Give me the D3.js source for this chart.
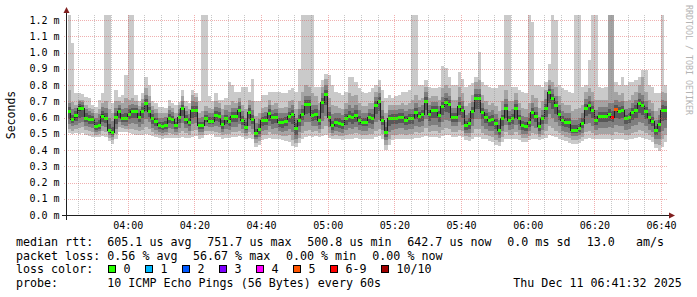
<!DOCTYPE html>
<html>
<head>
<meta charset="utf-8">
<script src="https://cdn.jsdelivr.net/npm/d3@7"></script>
<style>
  body { margin: 0; background: #fff; }
  svg { display: block; }
  text { font-family: "DejaVu Sans Mono", monospace; }
</style>
</head>
<body>
<svg id="chart" width="697" height="297"></svg>
<script>
// one data point per minute, 180 minutes
const startTime = new Date(2025, 11, 11, 3, 41, 56);
const stepMinutes = 1;

// median rtt per minute (microseconds)
const median = [
  637,585,611,658,658,595,589,589,543,553, 609,595,523,507,600,634,593,593,621,634,
  634,600,637,687,640,592,574,551,543,553, 595,588,550,600,654,588,568,646,646,548,
  548,591,578,578,615,609,554,591,578,605, 605,646,584,540,630,589,501,529,580,584,
  626,597,603,570,570,578,609,621,533,584, 621,677,677,615,621,584,693,743,603,548,
  572,566,556,594,609,597,615,584,572,572, 603,594,673,697,584,509,591,594,594,600,
  601,584,594,594,632,609,621,700,621,642, 642,615,667,693,680,603,603,667,646,548,
  564,638,718,718,632,601,580,589,564,523, 591,658,580,594,656,591,548,544,570,632,
  609,544,591,656,752,718,671,621,584,572, 572,523,523,533,566,658,671,642,584,609,
  609,609,619,601,650,638,642,591,603,630, 646,687,671,638,597,578,519,556,646,643
];

// the 10 sorted pings of every minute (microseconds); 1300 = off the top of the chart
const pings = [
  [505,530,560,590,625,648,665,690,770,1300],
  [500,520,545,565,578,595,615,650,697,1056],
  [505,530,555,580,600,620,640,660,680,750],
  [500,535,565,600,640,668,685,700,707,750],
  [505,540,570,605,645,665,680,695,705,745],
  [495,525,550,570,588,605,625,650,680,724],
  [485,515,540,560,580,598,615,640,660,718],
  [480,510,535,560,580,598,612,630,650,677],
  [478,495,510,525,537,552,570,600,630,667],
  [480,500,515,530,545,562,585,620,650,707],
  [485,515,545,570,600,620,640,665,690,750],
  [480,510,540,565,585,605,630,660,700,1300],
  [455,475,490,505,515,532,560,600,650,1300],
  [440,460,478,490,500,515,540,580,630,687],
  [470,500,530,560,590,610,630,660,700,769],
  [510,540,570,600,625,642,660,680,700,728],
  [512,535,555,575,585,600,620,650,690,738],
  [510,530,550,570,585,600,625,660,720,862],
  [505,530,560,590,612,630,650,675,710,1300],
  [500,530,565,600,625,642,660,685,720,1300],
  [495,525,560,600,625,642,660,680,700,740],
  [490,515,540,570,592,608,625,650,670,700],
  [495,525,560,600,628,645,665,690,715,750],
  [500,540,590,640,678,695,715,740,780,851],
  [495,530,570,605,632,648,665,690,730,800],
  [485,510,535,560,585,600,620,645,670,700],
  [478,500,525,550,566,582,600,625,655,690],
  [472,490,510,530,544,558,575,600,630,667],
  [470,488,505,522,536,550,570,595,625,667],
  [472,492,510,530,545,560,580,605,630,660],
  [475,505,535,565,588,602,620,645,670,707],
  [475,500,530,560,580,595,612,635,660,690],
  [472,490,508,528,543,557,575,600,630,680],
  [475,505,535,565,592,608,625,650,680,695],
  [480,520,565,610,645,662,680,700,730,769],
  [475,505,535,560,580,596,615,640,670,700],
  [472,495,520,545,560,576,595,620,650,690],
  [480,520,560,600,638,654,672,700,740,769],
  [485,525,565,605,638,654,670,695,725,750],
  [470,490,508,528,541,555,575,600,630,700],
  [475,495,512,530,541,555,575,605,640,1300],
  [495,520,545,570,584,598,615,640,670,1300],
  [500,520,540,560,571,585,605,630,660,730],
  [500,520,540,558,571,585,603,625,650,700],
  [480,510,545,580,607,623,640,665,700,749],
  [480,505,540,575,601,617,635,660,690,708],
  [470,490,510,530,546,562,585,615,650,708],
  [475,500,530,560,583,599,618,645,675,720],
  [475,500,525,550,570,586,605,635,680,820],
  [480,510,540,570,597,613,632,660,700,800],
  [480,510,540,570,597,613,632,658,690,759],
  [485,520,560,600,638,654,672,695,720,759],
  [478,505,530,555,576,592,612,640,680,790],
  [465,485,505,522,533,548,570,600,650,790],
  [475,510,550,590,622,638,656,680,710,760],
  [470,500,530,560,581,597,616,645,700,837],
  [420,445,465,482,494,509,530,565,610,700],
  [430,455,480,500,521,537,560,590,630,700],
  [460,490,520,550,572,588,606,630,660,740],
  [465,495,525,555,576,592,610,635,665,740],
  [475,510,545,580,618,634,652,675,705,759],
  [470,500,530,560,589,605,623,648,680,759],
  [470,500,535,565,595,611,630,655,690,759],
  [465,490,515,540,562,578,597,625,660,759],
  [460,485,510,535,562,578,597,625,660,749],
  [455,485,515,545,570,586,605,630,665,749],
  [450,490,530,570,601,617,636,660,700,770],
  [425,460,510,560,613,629,648,675,710,780],
  [420,445,470,495,525,541,565,600,650,760],
  [445,475,510,545,576,592,615,650,700,900],
  [470,505,545,585,613,629,650,680,760,1300],
  [480,520,570,620,669,685,705,735,800,1300],
  [485,525,575,625,669,685,705,735,790,1300],
  [480,510,545,580,607,623,645,680,750,1300],
  [485,515,550,585,613,629,650,680,730,790],
  [480,505,530,555,576,592,612,645,690,790],
  [485,530,580,630,685,701,720,750,790,830],
  [490,545,610,680,735,751,770,800,840,870],
  [475,505,540,570,595,611,632,665,720,861],
  [465,485,505,525,540,556,580,620,680,800],
  [465,490,515,540,564,580,600,630,670,760],
  [465,488,512,535,558,574,595,625,660,750],
  [462,485,505,528,548,564,585,615,650,740],
  [465,495,525,555,586,602,622,650,690,760],
  [470,500,535,570,601,617,640,680,750,850],
  [470,500,530,560,589,605,625,660,730,850],
  [475,505,540,575,607,623,645,680,740,820],
  [470,500,525,555,576,592,612,645,690,780],
  [468,495,520,545,564,580,600,630,670,760],
  [468,495,520,545,564,580,600,630,670,750],
  [470,500,535,565,595,611,630,655,690,760],
  [470,500,530,560,586,602,622,650,690,780],
  [480,520,570,620,665,681,700,725,760,800],
  [485,530,585,640,689,705,725,750,790,830],
  [470,500,525,555,576,592,612,645,700,770],
  [400,430,460,480,501,517,540,575,630,720],
  [430,470,510,550,583,599,618,645,680,740],
  [460,490,525,560,586,602,620,645,675,720],
  [465,495,530,560,586,602,620,645,675,730],
  [470,500,535,565,592,608,626,650,680,740],
  [470,500,535,565,593,609,628,655,690,759],
  [468,495,525,555,576,592,612,640,680,759],
  [470,500,530,560,586,602,622,650,690,770],
  [470,500,530,560,586,602,622,655,710,1300],
  [475,510,550,590,624,640,660,690,740,1300],
  [475,505,540,575,601,617,636,665,710,800],
  [478,510,545,580,613,629,648,675,720,800],
  [485,535,590,645,692,708,728,755,790,830],
  [478,510,545,580,613,629,648,675,720,790],
  [480,515,555,595,634,650,668,695,730,780],
  [480,515,555,595,634,650,668,695,730,780],
  [475,505,540,575,607,623,642,670,710,790],
  [485,525,570,615,659,675,695,725,780,917],
  [490,535,585,635,685,701,720,750,800,905],
  [490,530,580,630,672,688,706,735,780,850],
  [480,510,545,575,595,611,630,660,710,800],
  [480,510,545,575,595,611,630,660,710,800],
  [485,525,570,615,659,675,695,725,790,882],
  [480,515,555,600,638,654,672,700,750,840],
  [460,485,505,525,540,556,580,615,670,790],
  [455,480,505,530,556,572,595,630,690,800],
  [470,505,545,590,630,646,666,695,740,810],
  [480,530,590,650,710,726,745,775,820,850],
  [480,530,590,650,710,726,745,775,830,1005],
  [470,505,545,590,624,640,660,690,740,820],
  [465,495,530,565,593,609,628,655,700,800],
  [455,485,515,545,572,588,608,635,680,790],
  [450,480,515,550,581,597,616,645,690,780],
  [430,460,495,530,556,572,592,620,670,780],
  [425,450,475,495,515,531,552,585,640,800],
  [450,480,515,550,583,599,618,645,700,800],
  [470,510,555,600,650,666,686,715,770,1300],
  [465,495,525,555,572,588,608,640,700,1300],
  [465,495,530,560,586,602,622,650,700,790],
  [470,510,555,600,648,664,682,710,750,790],
  [460,490,525,560,583,599,618,645,690,770],
  [450,475,500,522,540,556,578,610,660,760],
  [450,475,498,520,536,552,574,605,650,750],
  [460,485,515,540,562,578,598,630,690,1300],
  [470,505,545,590,624,640,660,690,740,1186],
  [468,500,535,570,601,617,636,665,720,800],
  [460,480,500,520,536,552,574,605,660,800],
  [465,495,525,560,583,599,618,645,700,790],
  [475,515,560,605,648,664,684,715,770,820],
  [490,550,620,690,744,760,778,800,830,930],
  [485,535,595,655,710,726,746,775,820,1300],
  [480,520,570,620,663,679,700,730,790,1200],
  [470,505,545,585,613,629,648,680,730,800],
  [460,490,520,550,576,592,612,640,690,780],
  [455,482,510,540,564,580,600,630,680,770],
  [445,475,505,535,564,580,600,630,680,760],
  [440,462,485,505,515,531,552,585,640,750],
  [440,462,485,505,515,531,552,585,650,1300],
  [445,468,492,512,525,541,562,595,660,1300],
  [455,480,505,535,558,574,594,625,680,790],
  [470,510,560,610,650,666,686,715,760,800],
  [475,515,565,620,663,679,700,730,780,954],
  [470,505,550,595,634,650,670,700,760,1300],
  [465,495,525,555,576,592,612,645,710,1300],
  [470,500,535,570,601,617,636,665,710,790],
  [470,500,535,570,601,617,636,665,710,780],
  [470,500,535,570,601,617,636,665,710,790],
  [465,500,540,580,611,627,650,690,1300,1300],
  [460,495,535,570,593,609,640,690,1300,1300],
  [470,510,555,600,642,658,680,710,760,820],
  [470,505,545,590,630,646,666,695,740,800],
  [470,505,550,595,634,650,670,700,750,851],
  [460,490,525,560,583,599,618,650,700,800],
  [465,495,530,565,595,611,630,660,710,820],
  [470,505,545,585,622,638,658,690,740,820],
  [475,510,555,600,638,654,674,705,760,830],
  [480,525,575,625,679,695,715,750,800,850],
  [475,515,565,615,663,679,700,740,850,892],
  [470,505,545,590,630,646,666,700,760,892],
  [460,490,525,560,589,605,625,655,710,800],
  [450,480,510,545,570,586,606,640,690,785],
  [410,440,470,495,511,527,550,585,640,750],
  [395,430,470,510,548,564,585,615,660,750],
  [420,470,520,580,638,654,674,705,760,1300],
  [450,490,535,585,635,651,670,700,750,800]
];

// minutes with packet loss (percent), all others 0
const lossEvents = [
  { minute: 163, pct: 56.67 },
  { minute: 164, pct: 43.33 }
];

const lossLabels = ["0", "1", "2", "3", "4", "5", "6-9", "10/10"];
const lossColors = ["#26ff00", "#00b8ff", "#0059ff", "#7e00ff", "#ff00ff", "#ff5500", "#ff0000", "#a10000"];
const smokeColors = ["#cacaca", "#a4a4a4", "#7e7e7e", "#585858", "#323232"];

const yTickValues = [0, 100, 200, 300, 400, 500, 600, 700, 800, 900, 1000, 1100, 1200];
const yTickLabels = ["0.0 m", "0.1 m", "0.2 m", "0.3 m", "0.4 m", "0.5 m", "0.6 m",
                     "0.7 m", "0.8 m", "0.9 m", "1.0 m", "1.1 m", "1.2 m"];
const xTickLabels = ["04:00", "04:20", "04:40", "05:00", "05:20", "05:40", "06:00", "06:20", "06:40"];

const rttLegend = [
  [16, "median rtt:"], [107.3, "605.1 us avg"], [207.3, "751.7 us max"], [307.3, "500.8 us min"],
  [407.3, "642.7 us now"], [507.3, "0.0 ms sd"], [586.7, "13.0"], [636, "am/s"]
];
const lossLegend = [
  [16, "packet loss:"], [107.3, "0.56 % avg"], [193, "56.67 % max"], [286, "0.00 % min"], [372.3, "0.00 % now"]
];
const probeLegend = [
  [16, "probe:"], [107.3, "10 ICMP Echo Pings (56 Bytes) every 60s"], [513.3, "Thu Dec 11 06:41:32 2025"]
];

// ------------------------------------------------------------------
const svg = d3.select("#chart");
const plot = { left: 67.5, right: 667.5, top: 15, bottom: 215 };

const times = median.map((d, i) => d3.timeMinute.offset(startTime, i * stepMinutes));
const endTime = d3.timeMinute.offset(startTime, median.length * stepMinutes);

const x = d3.scaleTime().domain([startTime, endTime]).range([plot.left, plot.right]);
const y = d3.scaleLinear().domain([0, 1230.8]).range([plot.bottom, plot.top]);

const lossPct = median.map(() => 0);
lossEvents.forEach(e => { lossPct[e.minute] = e.pct; });
function lossClass(p) {
  if (p <= 0) return 0;
  const n = Math.ceil(p / 10 - 1e-9);
  if (n >= 10) return 7;
  if (n >= 6) return 6;
  return n;
}

svg.append("defs").append("clipPath").attr("id", "clip")
  .append("rect").attr("x", 67).attr("y", plot.top).attr("width", 600).attr("height", plot.bottom - plot.top);

const rows = times.map((t, i) => ({ t, i, p: pings[i], m: median[i], loss: lossPct[i] }));
// step curves need a closing point at the end of the last minute
const stepRows = rows.concat([{ ...rows[rows.length - 1], t: endTime }]);

const gData = svg.append("g").attr("clip-path", "url(#clip)");

// smoke bands: outer pair lightest, inner pair darkest
smokeColors.forEach((col, k) => {
  const area = d3.area()
    .x(d => x(d.t))
    .y0(d => y(d.p[k]))
    .y1(d => y(d.p[9 - k]))
    .curve(d3.curveStepAfter);
  gData.append("path")
    .datum(stepRows)
    .attr("d", area)
    .attr("fill", col)
    .attr("shape-rendering", "crispEdges");
});

// median line
const line = d3.line().x(d => x(d.t)).y(d => y(d.m)).curve(d3.curveStepAfter);
gData.append("path")
  .datum(stepRows)
  .attr("d", line)
  .attr("fill", "none")
  .attr("stroke", "#202020")
  .attr("stroke-width", 1)
  .attr("shape-rendering", "crispEdges");

// loss coloured median marks
gData.selectAll("rect.med")
  .data(rows)
  .join("rect")
  .attr("class", "med")
  .attr("x", d => x(d.t))
  .attr("width", d => x(d3.timeMinute.offset(d.t, stepMinutes)) - x(d.t))
  .attr("y", d => y(d.m) - 1.5)
  .attr("height", 3)
  .attr("fill", d => lossColors[lossClass(d.loss)])
  .attr("shape-rendering", "crispEdges");

// grid (drawn over the data like rrdtool does)
const gGrid = svg.append("g").attr("shape-rendering", "crispEdges");
const minorTimes = d3.timeMinute.every(5).range(startTime, endTime);
const xTickTimes = xTickLabels.map(s => {
  const [h, m] = s.split(":");
  return new Date(2025, 11, 11, +h, +m);
});
const isMajor = t => t.getMinutes() % 20 === 0;
const majorCol = "rgba(222,79,79,0.45)";
const minorCol = "rgba(143,143,143,0.5)";

gGrid.selectAll("line.vg")
  .data(minorTimes)
  .join("line")
  .attr("class", "vg")
  .attr("x1", d => Math.round(x(d)) + 0.5)
  .attr("x2", d => Math.round(x(d)) + 0.5)
  .attr("y1", plot.top)
  .attr("y2", plot.bottom + 2)
  .attr("stroke", d => isMajor(d) ? majorCol : minorCol)
  .attr("stroke-dasharray", "1,1");

gGrid.selectAll("line.hg")
  .data(yTickValues.slice(1))
  .join("line")
  .attr("class", "hg")
  .attr("x1", 64)
  .attr("x2", plot.right)
  .attr("y1", d => Math.round(y(d)) + 0.5)
  .attr("y2", d => Math.round(y(d)) + 0.5)
  .attr("stroke", majorCol)
  .attr("stroke-dasharray", "1,1");

// axes lines
const axisCol = "#1f1f1f";
svg.append("line")
  .attr("x1", 62).attr("x2", 670).attr("y1", 215.5).attr("y2", 215.5)
  .attr("stroke", axisCol).attr("shape-rendering", "crispEdges");
svg.append("line")
  .attr("x1", 66.5).attr("x2", 66.5).attr("y1", 220).attr("y2", 12)
  .attr("stroke", axisCol).attr("shape-rendering", "crispEdges");

// arrows
svg.append("path").attr("d", "M63.5,13 L69.5,13 L66.5,7 Z").attr("fill", "#801f1f");
svg.append("path").attr("d", "M669,212.5 L669,218.5 L675,215.5 Z").attr("fill", "#801f1f");

// tick labels through d3 axes
const xAxis = d3.axisBottom(x)
  .tickValues(xTickTimes)
  .tickFormat((d, i) => xTickLabels[i])
  .tickSize(0)
  .tickPadding(7);
const gx = svg.append("g").attr("transform", `translate(0,${plot.bottom})`).call(xAxis);
gx.select(".domain").remove();
gx.selectAll("text").attr("font-family", "DejaVu Sans Mono").attr("font-size", 10).attr("fill", "#000");

const yAxis = d3.axisLeft(y)
  .tickValues(yTickValues)
  .tickFormat((d, i) => yTickLabels[i])
  .tickSize(0)
  .tickPadding(7.5);
const gy = svg.append("g").attr("transform", "translate(67,0)").call(yAxis);
gy.select(".domain").remove();
gy.selectAll("text").attr("font-family", "DejaVu Sans Mono").attr("font-size", 10).attr("fill", "#000");

// vertical axis title
svg.append("text")
  .attr("transform", "translate(11,115) rotate(-90)")
  .attr("text-anchor", "middle")
  .attr("dy", "0.35em")
  .attr("font-size", 11.5)
  .attr("fill", "#000")
  .text("Seconds");

// watermark
svg.append("text")
  .attr("transform", "translate(688.5,5) rotate(90)")
  .attr("dy", "0.35em")
  .attr("font-size", 8.3)
  .attr("fill", "#b4b4b4")
  .text("RRDTOOL / TOBI OETIKER");

// legend
const legendFont = 11.66;
function legendLine(items, baseY) {
  items.forEach(([lx, s]) => {
    svg.append("text")
      .attr("x", lx).attr("y", baseY)
      .attr("font-size", legendFont)
      .attr("fill", "#000")
      .attr("xml:space", "preserve")
      .text(s);
  });
}
legendLine(rttLegend, 246);
legendLine(lossLegend, 259.5);

svg.append("text").attr("x", 16).attr("y", 273).attr("font-size", legendFont).text("loss color:");
const boxX = [108.5, 145.5, 182.5, 219.5, 256.5, 293.5, 330.5, 381.5];
lossLabels.forEach((lab, k) => {
  svg.append("rect")
    .attr("x", boxX[k]).attr("y", 265.5).attr("width", 7).attr("height", 7)
    .attr("fill", lossColors[k]).attr("stroke", "#000").attr("stroke-width", 1)
    .attr("shape-rendering", "crispEdges");
  svg.append("text")
    .attr("x", boxX[k] + 15).attr("y", 273)
    .attr("font-size", legendFont)
    .text(lab);
});

legendLine(probeLegend, 286.5);
</script>
</body>
</html>
